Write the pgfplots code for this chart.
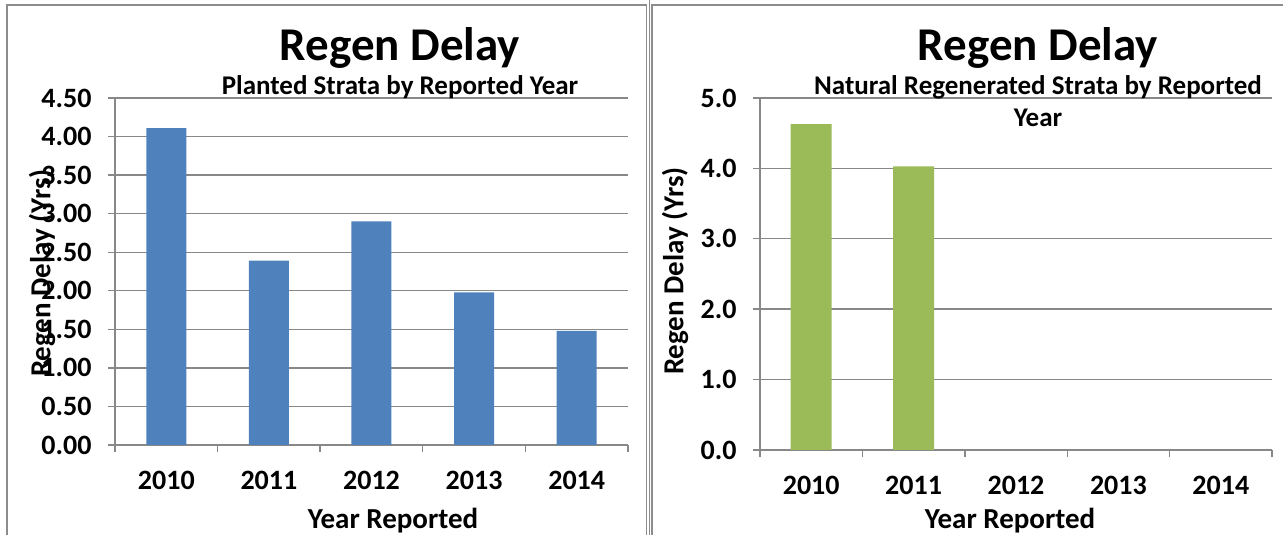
\documentclass[border=0pt]{standalone}
\usepackage{pgfplots}
\pgfplotsset{compat=1.18}
\usepackage{fontspec}
\setmainfont{Carlito}
\definecolor{gridc}{HTML}{888888}
\definecolor{framec}{HTML}{8C8C8C}
\definecolor{barblue}{HTML}{4F81BD}
\definecolor{bargreen}{HTML}{9BBB59}
\newcommand{\tf}{\fontsize{28}{32}\selectfont\bfseries}
\newcommand{\lf}{\fontsize{29}{33}\selectfont\bfseries}
\pgfplotsset{
  regen/.style={
    scale only axis,
    xmin=-0.5, xmax=4.5, ymin=0,
    axis x line*=bottom, axis y line*=left,
    axis line style={gridc, line width=1.4pt, -},
    ymajorgrids, grid style={gridc, line width=1.4pt},
    tick align=outside, major tick length=7pt,
    tick style={gridc, line width=1.4pt},
    xtick={-0.5,0.5,1.5,2.5,3.5,4.5}, xticklabels={},
    extra x ticks={0,1,2,3,4},
    extra x tick labels={2010,2011,2012,2013,2014},
    extra x tick style={major tick length=0pt, grid=none,
      xticklabel style={yshift=-23pt}},
    ticklabel style={font=\tf, text=black},
    yticklabel style={xshift=-13pt},
    ybar, clip=false,
  }
}
\begin{document}
\begin{tikzpicture}[x=1pt,y=1pt]
\path[use as bounding box] (0pt,0pt) rectangle (1283pt,535pt);
\begin{scope}
\clip (0pt,0pt) rectangle (1283pt,535pt);
% frames
\draw[framec, line width=1.5pt] (7pt,-5pt) -- (7pt,530pt) -- (646.5pt,530pt) -- (646.5pt,-5pt);
\draw[framec, line width=1.3pt] (649.3pt,-5pt) -- (649.3pt,540pt);
\draw[framec, line width=1.5pt] (652pt,-5pt) -- (652pt,530pt) -- (1290pt,530pt);

\begin{axis}[regen,
  at={(115pt,90pt)}, anchor=south west,
  width=513pt, height=347pt,
  ymax=4.5,
  ytick={0,0.5,1,1.5,2,2.5,3,3.5,4,4.5},
  yticklabels={0.00,0.50,1.00,1.50,2.00,2.50,3.00,3.50,4.00,4.50},
  bar width=40pt,
]
\addplot[fill=barblue, draw=none] coordinates {(0,4.11) (1,2.39) (2,2.90) (3,1.98) (4,1.48)};
\end{axis}

\begin{axis}[regen,
  at={(760pt,85pt)}, anchor=south west,
  width=512pt, height=352pt,
  ymax=5,
  ytick={0,1,2,3,4,5},
  yticklabels={0.0,1.0,2.0,3.0,4.0,5.0},
  bar width=41pt,
]
\addplot[fill=bargreen, draw=none] coordinates {(0,4.63) (1,4.03)};
\end{axis}

% titles
\node[anchor=base, font=\fontsize{47}{50}\selectfont\bfseries] at (400pt,474pt) {Regen Delay};
\node[anchor=base, font=\fontsize{27}{30}\selectfont\bfseries] at (400pt,440pt) {Planted Strata by Reported Year};
\node[anchor=base, font=\fontsize{47}{50}\selectfont\bfseries] at (1038pt,474pt) {Regen Delay};
\node[anchor=base, font=\fontsize{27}{30}\selectfont\bfseries] at (1038pt,440pt) {Natural Regenerated Strata by Reported};
\node[anchor=base, font=\fontsize{27}{30}\selectfont\bfseries] at (1038pt,408pt) {Year};
% axis labels
\node[anchor=base, font=\lf] at (393pt,6pt) {Year Reported};
\node[anchor=base, font=\lf] at (1010pt,6pt) {Year Reported};
\node[rotate=90, font=\lf] at (42pt,262pt) {Regen Delay (Yrs)};
\node[rotate=90, font=\lf] at (675pt,264pt) {Regen Delay (Yrs)};
\end{scope}
\end{tikzpicture}
\end{document}
